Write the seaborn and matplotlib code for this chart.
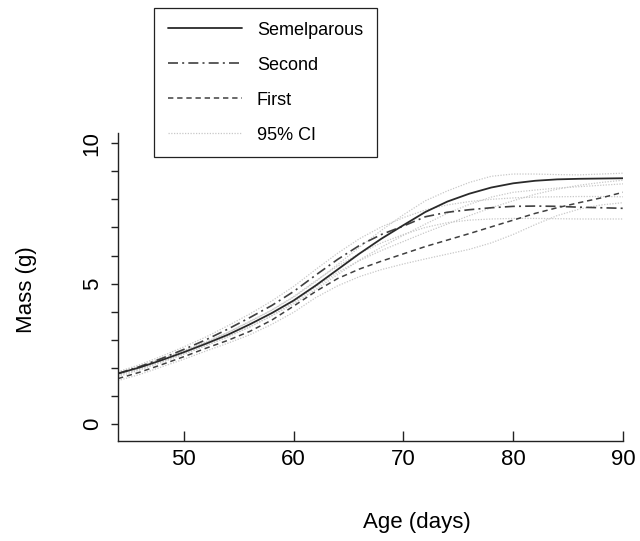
import matplotlib
matplotlib.use("Agg")
import matplotlib.pyplot as plt
import pandas as pd
import seaborn as sns

# age grid (days)
age = [44, 46, 48, 50, 52, 54, 56, 58, 60, 62, 64, 66,
       68, 70, 72, 74, 76, 78, 80, 82, 84, 86, 88, 90]

# fitted mass curves (g)
semelparous = [1.80, 2.02, 2.28, 2.56, 2.86, 3.18, 3.55, 3.95, 4.40, 4.93, 5.50, 6.07,
               6.60, 7.08, 7.55, 7.92, 8.20, 8.42, 8.57, 8.66, 8.71, 8.73, 8.74, 8.75]
second = [1.80, 2.05, 2.34, 2.66, 3.00, 3.38, 3.79, 4.22, 4.72, 5.30, 5.86, 6.36,
          6.75, 7.05, 7.38, 7.54, 7.63, 7.70, 7.75, 7.76, 7.75, 7.72, 7.70, 7.68]
first = [1.62, 1.85, 2.12, 2.40, 2.70, 2.98, 3.30, 3.70, 4.20, 4.72, 5.18, 5.52,
         5.80, 6.06, 6.32, 6.55, 6.78, 7.02, 7.26, 7.50, 7.70, 7.88, 8.05, 8.25]

# 95% confidence bounds
sem_upper = [1.86, 2.08, 2.34, 2.62, 2.93, 3.26, 3.64, 4.05, 4.52, 5.07, 5.68, 6.30,
             6.90, 7.45, 7.95, 8.30, 8.60, 8.82, 8.90, 8.90, 8.88, 8.87, 8.90, 8.93]
sem_lower = [1.74, 1.96, 2.22, 2.50, 2.79, 3.10, 3.46, 3.85, 4.28, 4.79, 5.32, 5.84,
             6.30, 6.72, 7.12, 7.50, 7.82, 8.08, 8.25, 8.33, 8.40, 8.45, 8.50, 8.55]
sec_upper = [1.86, 2.12, 2.42, 2.75, 3.10, 3.50, 3.92, 4.38, 4.90, 5.50, 6.08, 6.60,
             7.02, 7.35, 7.62, 7.80, 7.92, 8.00, 8.05, 8.08, 8.09, 8.10, 8.10, 8.09]
sec_lower = [1.74, 1.98, 2.26, 2.57, 2.90, 3.26, 3.66, 4.06, 4.54, 5.10, 5.62, 6.08,
             6.45, 6.75, 7.00, 7.17, 7.26, 7.30, 7.32, 7.32, 7.31, 7.30, 7.30, 7.30]
fir_upper = [1.69, 1.93, 2.20, 2.49, 2.80, 3.12, 3.46, 3.86, 4.34, 4.88, 5.40, 5.82,
             6.18, 6.50, 6.82, 7.12, 7.42, 7.70, 7.95, 8.18, 8.36, 8.50, 8.60, 8.68]
fir_lower = [1.55, 1.77, 2.04, 2.31, 2.60, 2.88, 3.18, 3.55, 3.98, 4.50, 4.92, 5.25,
             5.50, 5.70, 5.88, 6.05, 6.22, 6.45, 6.75, 7.10, 7.42, 7.65, 7.80, 7.88]

xticks = [50, 60, 70, 80, 90]
ylabels = {0: "0", 5: "5", 10: "10"}

sns.set_style("ticks")
plt.rcParams["font.family"] = ["Liberation Sans", "DejaVu Sans"]
plt.rcParams["text.color"] = "black"
plt.rcParams["xtick.labelcolor"] = "black"
plt.rcParams["ytick.labelcolor"] = "black"
plt.rcParams["axes.labelcolor"] = "black"

df = pd.DataFrame({
    "age": age, "sem": semelparous, "sec": second, "fir": first,
    "su": sem_upper, "sl": sem_lower, "du": sec_upper, "dl": sec_lower,
    "fu": fir_upper, "fl": fir_lower,
})

fig = plt.figure(figsize=(6.4, 5.41), dpi=100)
ax = fig.add_axes([118 / 640, 1 - 441 / 541, 505 / 640, 308 / 541])

ci_kw = dict(color="#c8c8c8", linewidth=0.9, linestyle=(0, (1, 1.2)))
for i, col in enumerate(["su", "sl", "du", "dl", "fu", "fl"]):
    sns.lineplot(data=df, x="age", y=col, ax=ax,
                 label="95% CI" if i == 0 else "_nolegend_", **ci_kw)

sns.lineplot(data=df, x="age", y="fir", ax=ax, label="First",
             color="#404040", linewidth=1.1, linestyle=(0, (3.5, 2.5)))
sns.lineplot(data=df, x="age", y="sec", ax=ax, label="Second",
             color="#404040", linewidth=1.2, linestyle=(0, (6, 2.5, 1.2, 2.5)))
sns.lineplot(data=df, x="age", y="sem", ax=ax, label="Semelparous",
             color="#2a2a2a", linewidth=1.3)

ax.set_xlim(44, 90)
ax.set_ylim(-0.6, 10.36)
sns.despine(ax=ax)
for s in ["left", "bottom"]:
    ax.spines[s].set_color("#222222")
    ax.spines[s].set_linewidth(1.0)

ax.set_xticks(xticks)
ax.set_xticklabels([str(t) for t in xticks])
ax.set_yticks(list(range(0, 11)))
ax.set_yticklabels([ylabels.get(t, "") for t in range(0, 11)])
ax.tick_params(axis="x", direction="in", length=7, width=1, color="#222222",
               labelsize=16, pad=6)
ax.tick_params(axis="y", direction="out", length=5, width=1, color="#222222",
               labelsize=16, pad=6, labelrotation=90)
for lab in ax.get_yticklabels():
    lab.set_va("center")

ax.set_xlabel("Age (days)", fontsize=16)
ax.set_ylabel("Mass (g)", fontsize=16)
ax.xaxis.set_label_coords(0.592, -0.23)
ax.yaxis.set_label_coords(-0.16, 0.49)

handles, labels = ax.get_legend_handles_labels()
order = ["Semelparous", "Second", "First", "95% CI"]
hmap = dict(zip(labels, handles))
ax.get_legend().remove()
leg = fig.legend([hmap[k] for k in order], order, loc="upper left",
                 bbox_to_anchor=(154 / 640, 1 - 8 / 541), borderaxespad=0,
                 fontsize=13, handlelength=4.1, handletextpad=0.85,
                 labelspacing=1.0, borderpad=0.75, fancybox=False,
                 framealpha=1, edgecolor="#222222")
leg.get_frame().set_linewidth(0.9)

fig.savefig("out.png", dpi=100)
